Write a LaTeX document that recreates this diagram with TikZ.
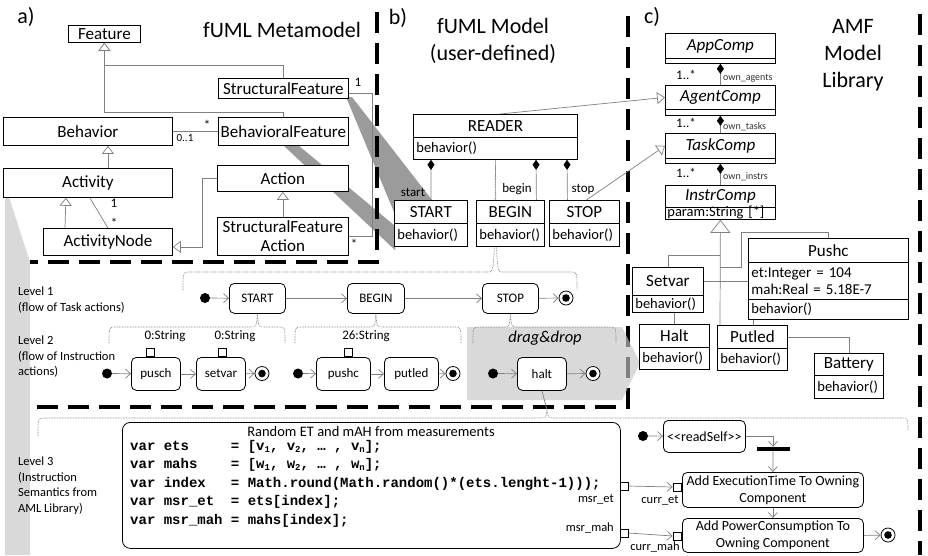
\documentclass[tikz,border=0pt]{standalone}
\usepackage{fontspec}
\setmainfont{Carlito}
\newfontfamily\codefont{Liberation Mono}
\usetikzlibrary{arrows.meta,calc}
\pgfdeclarelayer{back}
\pgfdeclarelayer{dashes}
\pgfdeclarelayer{drag}
\pgfdeclarelayer{lines}
\pgfsetlayers{back,dashes,drag,lines,main}
\newcommand\fsz[2]{\fontsize{#1}{#2}\selectfont}
\newcommand\cv[1]{\makebox[100.8pt][l]{#1}}
\newcommand\sub[1]{\raisebox{-2pt}{\fsz{9}{9}#1}}
\definecolor{lgray}{RGB}{128,128,128}
\definecolor{stripgray}{RGB}{217,217,217}
\definecolor{wedgegray}{RGB}{155,155,155}
\definecolor{draggray}{RGB}{197,197,197}
% dotted curly brace: x-left, x-right, top y, left end y, right end y, peak point
\newcommand\dotbrace[6]{%
  \draw[brc] let \p1=(#6) in
    (#1pt,-#4pt) .. controls (#1pt,-#3pt) .. (#1pt+6pt,-#3pt)
    -- (\x1-7pt,-#3pt) .. controls (\x1-1pt,-#3pt) .. (\x1,\y1)
    .. controls (\x1+1pt,-#3pt) .. (\x1+7pt,-#3pt)
    -- (#2pt-6pt,-#3pt) .. controls (#2pt,-#3pt) .. (#2pt,-#5pt);}
\tikzset{
  cbox/.style={draw=black, line width=0.8pt, fill=white, inner sep=0pt, anchor=north west},
  cname/.style={cbox, font=\fsz{17}{20}},
  cital/.style={cbox, font=\fsz{17}{20}\itshape},
  cop/.style={cbox, font=\fsz{14.5}{17}, align=left, inner xsep=3pt},
  gline/.style={draw=lgray, line width=0.7pt},
  gen/.style={gline, -{Triangle[length=8pt,width=12pt,fill=white]}},
  gen2/.style={gline, -{Triangle[length=13pt,width=20pt,fill=white]}},
  compline/.style={gline, -{Diamond[length=10pt,width=7pt,color=black]}},
  mlabel/.style={font=\fsz{13}{15}, inner sep=0pt},
  rolelbl/.style={font=\fsz{10}{12}, inner sep=0pt, anchor=west, text=black!80},
  actbox/.style={draw=black, line width=0.8pt, rounded corners=5pt, fill=white, inner sep=0pt, anchor=north west, font=\fsz{13}{15}},
  initn/.style={circle, fill=black, minimum size=10pt, inner sep=0pt},
  finaln/.style={circle, draw=black, line width=0.8pt, fill=white, minimum size=14pt, inner sep=0pt,
    path picture={\fill[black] (path picture bounding box.center) circle (3.8pt);}},
  flowline/.style={draw=lgray, line width=0.7pt, -{Straight Barb[length=5pt,width=9pt]}},
  brc/.style={draw=lgray, line width=0.6pt, dash pattern=on 0.8pt off 0.8pt},
  pinbox/.style={draw=black, line width=0.8pt, fill=white, minimum size=8pt, inner sep=0pt},
  frameline/.style={line width=3.2pt, dash pattern=on 21pt off 10pt},
  lvl/.style={font=\fsz{12.5}{15.5}, align=left, anchor=north west, inner sep=0pt},
  ttl/.style={font=\fsz{22}{27}, align=center, inner sep=0pt},
}
\begin{document}
\begin{tikzpicture}[x=1pt,y=-1pt]
\useasboundingbox (0,0) rectangle (928,555);

% ---------- background shapes ----------
\begin{pgfonlayer}{back}
  \fill[white] (0,0) rectangle (928,555);
  \fill[stripgray] (5,197) -- (9,197) -- (30,262) -- (30,555) -- (5,555) -- cycle;
  \fill[wedgegray] (346,97) -- (352,97) -- (432,200) -- (394,212) -- cycle;
  \fill[wedgegray] (283,145) -- (298,145) -- (395,226) -- (395,250) -- cycle;
\end{pgfonlayer}
\begin{pgfonlayer}{dashes}
  \draw[frameline] (377,12) -- (377,262) -- (30,262);
  \draw[frameline] (628,16) -- (628,407) -- (30,407);
  \draw[frameline] (920,14) -- (920,555);
\end{pgfonlayer}
\begin{pgfonlayer}{drag}
  \fill[draggray, fill opacity=0.65] (467,327) -- (622,327) -- (640,363) -- (622,400) -- (467,400) -- cycle;
\end{pgfonlayer}

% ---------- titles ----------
\node[ttl] (ta) at (26,17) {a)};
\node[ttl] (tb) at (398,18) {b)};
\node[ttl] (tc) at (652,17) {c)};
\node[ttl] (hmeta) at (282,30) {fUML Metamodel};
\node[ttl] (hmodel) at (493,41) {fUML Model\\(user-defined)};
\node[ttl] (hlib) at (853,55) {AMF\\Model\\Library};

% ---------- a) fUML metamodel ----------
\node[cname, minimum width=72pt, minimum height=17pt] (feature) at (68,25) {Feature};
\node[cname, minimum width=130pt, minimum height=20pt] (sf) at (218,78) {StructuralFeature};
\node[cname, minimum width=169pt, minimum height=28pt] (behavior) at (3,117) {Behavior};
\node[cname, minimum width=130pt, minimum height=28pt] (bf) at (218,117) {BehavioralFeature};
\node[cname, minimum width=169pt, minimum height=29pt] (activity) at (3,168) {Activity};
\node[cname, minimum width=131pt, minimum height=26pt] (action) at (217,165) {Action};
\node[cname, minimum width=131pt, minimum height=38pt, align=center, font=\fsz{17}{19}] (sfa) at (217,217) {StructuralFeature\\Action};
\node[cname, minimum width=129pt, minimum height=27pt] (anode) at (43,228) {ActivityNode};
\node[mlabel] (m1) at (358,82) {1};
\node[mlabel] (m2) at (354,244) {*};
\node[mlabel] (m3) at (207,125) {*};
\node[mlabel, font=\fsz{11}{13}] (m4) at (185,138) {0..1};
\node[mlabel] (m5) at (114,203) {1};
\node[mlabel] (m6) at (114,223) {*};

% ---------- b) fUML model ----------
\node[cname, minimum width=164pt, minimum height=23pt] (reader) at (413,114) {READER};
\node[cop, text width=158pt, minimum height=22pt] (readerop) at (413,137) {behavior()};
\node[cname, minimum width=73pt, minimum height=23pt] (startc) at (394,200) {START};
\node[cop, text width=67pt, minimum height=23pt] (startcop) at (394,223) {behavior()};
\node[cname, minimum width=68pt, minimum height=23pt] (beginc) at (476,200) {BEGIN};
\node[cop, text width=62pt, minimum height=23pt] (begincop) at (476,223) {behavior()};
\node[cname, minimum width=70pt, minimum height=23pt] (stopc) at (549,200) {STOP};
\node[cop, text width=64pt, minimum height=23pt] (stopcop) at (549,223) {behavior()};
\node[mlabel] (rs) at (413,192) {start};
\node[mlabel] (rb) at (517,189) {begin};
\node[mlabel] (rt) at (583,189) {stop};

% ---------- c) AMF model library ----------
\node[cital, minimum width=110pt, minimum height=25pt] (app) at (665,33) {AppComp};
\node[cbox, minimum width=110pt, minimum height=5pt] (appc) at (665,58) {};
\node[cital, minimum width=110pt, minimum height=24pt] (agent) at (665,85) {AgentComp};
\node[cbox, minimum width=110pt, minimum height=6pt] (agentc) at (665,109) {};
\node[cital, minimum width=110pt, minimum height=25pt] (task) at (665,133) {TaskComp};
\node[cbox, minimum width=110pt, minimum height=5pt] (taskc) at (665,158) {};
\node[cital, minimum width=110pt, minimum height=22pt] (instr) at (665,185) {InstrComp};
\node[cop, font=\fsz{14.5}{17}, text width=106pt, inner xsep=2pt, minimum height=12pt, text height=9pt, text depth=2pt] (instrop) at (665,207) {param:String [*]};
\node[mlabel] (c1) at (686,75) {1..*};
\node[rolelbl] (c2) at (723,78) {own\_agents};
\node[mlabel] (c3) at (686,123) {1..*};
\node[rolelbl] (c4) at (723,127) {own\_tasks};
\node[mlabel] (c5) at (686,173) {1..*};
\node[rolelbl] (c6) at (723,177) {own\_instrs};

\node[cname, minimum width=71pt, minimum height=28pt] (setvar) at (632,267) {Setvar};
\node[cop, text width=65pt, minimum height=17pt] (setvarop) at (632,295) {behavior()};
\node[cname, minimum width=160pt, minimum height=24pt] (pushc) at (748,238) {Pushc};
\node[cop, font=\fsz{15}{17}, text width=154pt, minimum height=37pt] (pushcattr) at (748,262) {et:Integer = 104\\mah:Real = 5.18E-7};
\node[cop, text width=154pt, minimum height=20pt] (pushcop) at (748,299) {behavior()};
\node[cname, minimum width=70pt, minimum height=23pt] (halt) at (639,324) {Halt};
\node[cop, text width=64pt, minimum height=22pt] (haltop) at (639,347) {behavior()};
\node[cname, minimum width=70pt, minimum height=23pt] (putled) at (717,325) {Putled};
\node[cop, text width=64pt, minimum height=22pt] (putledop) at (717,348) {behavior()};
\node[cname, minimum width=69pt, minimum height=22pt] (battery) at (814,353) {Battery};
\node[cop, text width=63pt, minimum height=23pt] (batteryop) at (814,375) {behavior()};

% ---------- level texts ----------
\node[lvl] (lv1) at (18,287) {Level 1\\(flow of Task actions)};
\node[lvl] (lv2) at (18,336) {Level 2\\(flow of Instruction\\actions)};
\node[lvl] (lv3) at (18,457) {Level 3\\(Instruction\\Semantics from\\AML Library)};

% ---------- level 1: task actions ----------
\node[initn] (i1) at (205,298) {};
\node[actbox, minimum width=56pt, minimum height=30pt] (startL) at (229,283) {START};
\node[actbox, minimum width=57pt, minimum height=30pt] (beginL) at (347,283) {BEGIN};
\node[actbox, minimum width=56pt, minimum height=30pt] (stopL) at (482,283) {STOP};
\node[finaln] (f1) at (566,298) {};

% ---------- level 2: instruction actions ----------
\node[initn] (i2) at (107,373.5) {};
\node[actbox, minimum width=49pt, minimum height=33pt] (aPusch) at (131,357) {pusch};
\node[actbox, minimum width=49pt, minimum height=33pt] (aSetvar) at (196,357) {setvar};
\node[finaln] (f2) at (262,373.5) {};
\node[pinbox, anchor=south] (pin1) at ($(aPusch.north west)+(19,0)$) {};
\node[pinbox, anchor=south] (pin2) at ($(aSetvar.north west)+(26,0)$) {};
\node[mlabel] (s1) at (165,336) {0:String};
\node[mlabel] (s2) at (235,336) {0:String};

\node[initn] (i3) at (298,373.5) {};
\node[actbox, minimum width=54pt, minimum height=33pt] (aPushc) at (316,357) {pushc};
\node[actbox, minimum width=54pt, minimum height=33pt] (aPutled) at (384,357) {putled};
\node[finaln] (f3) at (453,373.5) {};
\node[pinbox, anchor=south] (pin3) at ($(aPushc.north west)+(32,0)$) {};
\node[mlabel] (s3) at (366,336) {26:String};

\node[mlabel, font=\fsz{16.5}{18}\itshape] (dd) at (545,338) {drag\&drop};
\node[initn] (i5) at (493,373.5) {};
\node[actbox, minimum width=49pt, minimum height=33pt] (aHalt) at (517,357) {halt};
\node[finaln] (f5) at (593,373.5) {};
\coordinate (l3peak) at (547,410);

% ---------- level 3: instruction semantics ----------
\node[draw=black, line width=0.8pt, rounded corners=8pt, fill=white, minimum width=498pt, minimum height=126pt, anchor=north west, inner sep=0pt] (code) at (122,422) {};
\node[font=\fsz{14.5}{17}, inner sep=0pt] (codetitle) at (371,432) {Random ET and mAH from measurements};
\node[anchor=north west, inner sep=0pt, align=left, font=\codefont\bfseries\fsz{14}{18.5}] (codetext) at (130,440) {%
\cv{var ets}= [v\sub{1}, v\sub{2}, … , v\sub{n}];\\
\cv{var mahs}= [w\sub{1}, w\sub{2}, … , w\sub{n}];\\
\cv{var index}= Math.round(Math.random()*(ets.lenght-1)));\\
\cv{var msr\_et}= ets[index];\\
\cv{var msr\_mah}= mahs[index];};
\node[pinbox] (pmet) at (624,486) {};
\node[pinbox] (pmmah) at (624,533) {};
\node[mlabel, font=\fsz{12.5}{14}, anchor=east] (lmet) at (614,499) {msr\_et};
\node[mlabel, font=\fsz{12.5}{14}, anchor=east] (lmmah) at (614,528) {msr\_mah};

\node[initn] (i4) at (643,436) {};
\node[actbox, minimum width=82pt, minimum height=32pt, font=\fsz{14}{16}] (rself) at (663,420) {<{}<readSelf>{}>};
\node[fill=black, minimum width=33pt, minimum height=4pt, inner sep=0pt] (fork) at (773,449) {};
\node[actbox, minimum width=181pt, minimum height=35pt, align=center, font=\fsz{14}{17}] (addet) at (682,472) {Add ExecutionTime To Owning\\Component};
\node[actbox, minimum width=181pt, minimum height=34pt, align=center, font=\fsz{14}{17}] (addpc) at (682,518) {Add PowerConsumption To\\Owning Component};
\node[pinbox] (pcet) at (677,487) {};
\node[pinbox] (pcmah) at (677,536) {};
\node[mlabel, font=\fsz{12.5}{14}] (lcet) at (660,500) {curr\_et};
\node[mlabel, font=\fsz{12.5}{14}] (lcmah) at (655,547) {curr\_mah};
\node[finaln] (f4) at (888,535) {};

% ---------- connectors ----------
\begin{pgfonlayer}{lines}
  % metamodel
  \draw[gen] (sf.north) -- ++(0,-13) -| (feature.south);
  \draw[gen] (bf.north) -- ++(0,-5) -| (feature.south);
  \draw[gline] (behavior.east) -- (bf.west);
  \draw[gen] ([xshift=20pt]activity.north) -- ([xshift=20pt]behavior.south);
  \draw[gen] ([xshift=22pt]anode.north west) -- ([xshift=-22pt]activity.south);
  \draw[gline] ([xshift=2pt]activity.south) -- (anode.north);
  \draw[gen] (action.west) -- ++(-15,0) |- ([yshift=-5pt]anode.east);
  \draw[gen] (sfa.north) -- (action.south);
  \draw[gline] ([yshift=-5pt]sf.east) -- ++(24,0) |- (sfa.east);
  % user model
  \draw[compline] (startc.north) -- ($(readerop.south west)+(18,0)$);
  \draw[compline] ($(beginc.north)+(26,0)$) -- ($(readerop.south west)+(123,0)$);
  \draw[compline] ($(stopc.north)+(-17,0)$) -- ($(readerop.south west)+(154,0)$);
  \draw[gen] ($(reader.north west)+(87,0)$) -- (agent.west);
  \draw[gen] ($(stopc.north)+(2,0)$) -- (task.west);
  % library
  \draw[compline] (agent.north) -- (appc.south);
  \draw[compline] (task.north) -- (agentc.south);
  \draw[compline] (instr.north) -- (taskc.south);
  \draw[gen2] ($(putled.north west)+(3,0)$) -- (instrop.south);
  \draw[gline] (setvar.north) |- ($(instrop.south)+(0,36)$);
  \draw[gline] ($(instrop.south)+(0,48)$) -- ++(21,0) -- ++(0,-35) -| (pushc.north);
  \draw[gline] (halt.north) |- (pushcattr.west);
  \draw[gline] (putled.east) -| (battery.north);
  \draw[gline] ($(pushcop.south west)+(5,0)$) -- ($(putled.north west)+(36,0)$);
  % braces
  \dotbrace{183}{577}{272}{290}{290}{readerop.south}
  \dotbrace{109}{285}{327}{343}{343}{startL.south}
  \dotbrace{295}{461}{327}{343}{343}{beginL.south}
  \dotbrace{473}{616}{327}{343}{343}{stopL.south}
  \dotbrace{38}{908}{418}{436}{430}{l3peak}
  \draw[gline] (aHalt.south) -- (l3peak);
  % level 1
  \draw[flowline] (i1) -- (startL);
  \draw[flowline] (startL) -- (beginL);
  \draw[flowline] (beginL) -- (stopL);
  \draw[flowline] (stopL) -- (f1);
  % level 2
  \draw[flowline] (i2) -- (aPusch);
  \draw[flowline] (aPusch) -- (aSetvar);
  \draw[flowline] (aSetvar) -- (f2);
  \draw[flowline] (i3) -- (aPushc);
  \draw[flowline] (aPushc) -- (aPutled);
  \draw[flowline] (aPutled) -- (f3);
  \draw[flowline] (i5) -- (aHalt);
  \draw[flowline] (aHalt) -- (f5);
  % level 3
  \draw[flowline] (i4) -- (rself);
  \draw[flowline] (rself.east) -| (fork.north);
  \draw[flowline] (fork.south) -- (addet.north);
  \draw[flowline] (addet.south) -- (addpc.north);
  \draw[flowline] (addpc.east) -- (f4);
  \draw[flowline] (pmet.east) -- (pcet.west);
  \draw[flowline] (pmmah.east) -- (pcmah.west);
\end{pgfonlayer}
\end{tikzpicture}
\end{document}
